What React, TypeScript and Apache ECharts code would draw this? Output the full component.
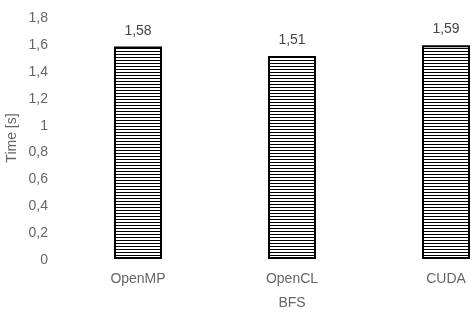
import React, { useEffect, useRef } from "react";
import * as echarts from "echarts";

const categories = ["OpenMP", "OpenCL", "CUDA"];
const times = [1.58, 1.51, 1.59];
const yTicks = { min: 0, max: 1.8, interval: 0.2 };
const xName = "BFS";
const yName = "Time [s]";

const comma = (v: number, digits?: number) => {
  const s = digits !== undefined ? v.toFixed(digits) : String(Math.round(v * 10) / 10);
  return s.replace(".", ",");
};

export default function App() {
  const ref = useRef<HTMLDivElement>(null);
  useEffect(() => {
    if (!ref.current) return;
    const chart = echarts.init(ref.current, undefined, { renderer: "svg" });
    const c = document.createElement("canvas");
    c.width = 4;
    c.height = 3;
    const ctx = c.getContext("2d")!;
    ctx.fillStyle = "#ffffff";
    ctx.fillRect(0, 0, 4, 3);
    ctx.fillStyle = "#000000";
    ctx.fillRect(0, 0, 4, 1);
    const font = "'Liberation Sans', Arial, Helvetica, sans-serif";
    chart.setOption({
      animation: false,
      textStyle: { fontFamily: font },
      grid: {
        left: 61,
        top: 17,
        height: 242,
        width: 462,
        containLabel: false,
        outerBoundsMode: "none",
      } as any,
      xAxis: {
        type: "category",
        data: categories,
        name: xName,
        nameLocation: "middle",
        nameGap: 36,
        nameTextStyle: { color: "#666", fontSize: 14, fontFamily: font },
        axisLine: { show: false },
        axisTick: { show: false },
        axisLabel: { color: "#666", fontSize: 14, margin: 12, fontFamily: font },
      },
      yAxis: {
        type: "value",
        min: yTicks.min,
        max: yTicks.max,
        interval: yTicks.interval,
        name: yName,
        nameLocation: "middle",
        nameGap: 39,
        nameTextStyle: { color: "#666", fontSize: 14, fontFamily: font },
        axisLine: { show: false },
        axisTick: { show: false },
        splitLine: { show: false },
        axisLabel: {
          color: "#666",
          fontSize: 14,
          margin: 13,
          fontFamily: font,
          formatter: (v: number) => comma(v),
        },
      },
      series: [
        {
          type: "bar",
          data: times,
          barWidth: 48,
          itemStyle: {
            color: { image: c, repeat: "repeat" } as any,
            borderColor: "#000",
            borderWidth: 2,
          },
          label: {
            show: true,
            position: "top",
            distance: 10,
            color: "#444",
            fontSize: 14,
            fontFamily: font,
            formatter: (p: any) => comma(p.value, 2),
          },
        },
      ],
    });
    return () => chart.dispose();
  }, []);
  return (
    <div
      ref={ref}
      style={{ position: "fixed", left: 0, top: 0, width: 473, height: 314 }}
    />
  );
}
